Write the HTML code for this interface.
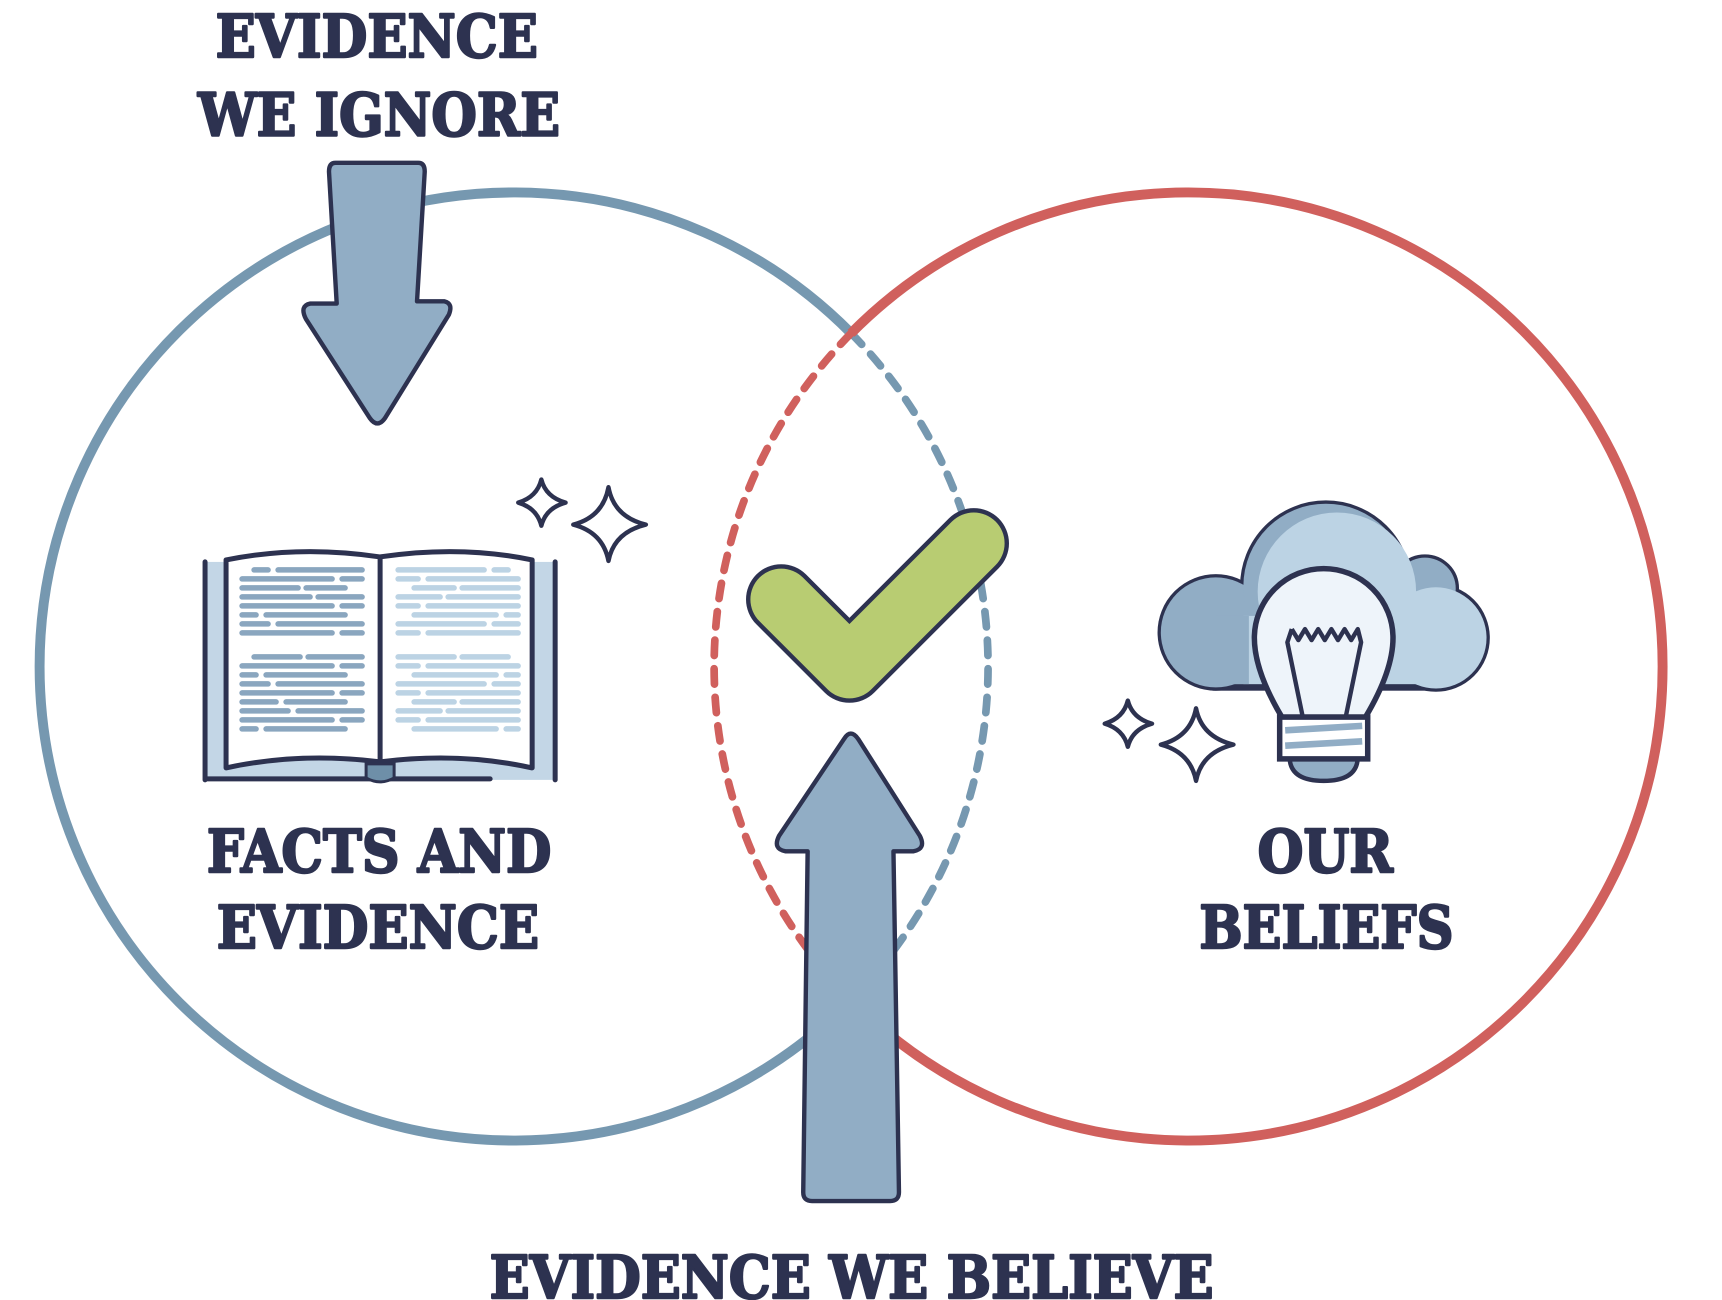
<!DOCTYPE html>
<html><head><meta charset="utf-8"><style>
html,body{margin:0;padding:0;background:#fff;}
svg{display:block;}
text{font-family:"DejaVu Serif","Liberation Serif",serif;font-weight:bold;fill:#2d3250;stroke:#2d3250;stroke-width:2.2;stroke-linejoin:round;}
</style></head><body>
<svg width="1722" height="1300" viewBox="0 0 1565 1182" preserveAspectRatio="none" xmlns="http://www.w3.org/2000/svg">
<rect width="1565" height="1182" fill="#fff"/>
<path d="M773.5 303 A431 431 0 1 0 773.5 909" fill="none" stroke="#7698b0" stroke-width="9"/>
<path d="M773.5 303 A431 431 0 0 1 773.5 909" fill="none" stroke="#7698b0" stroke-width="7" stroke-dasharray="14 12" stroke-linecap="round"/>
<path d="M773.5 303 A431 431 0 1 1 773.5 909" fill="none" stroke="#d0605d" stroke-width="9"/>
<path d="M773.5 303 A431 431 0 0 0 773.5 909" fill="none" stroke="#d0605d" stroke-width="7" stroke-dasharray="14 12" stroke-linecap="round"/>

<path d="M305 148 L380 148 Q386 148 386 156 L379 274 L404 274 Q412 276 408 286 L350 380 Q343 390 336 380 L278 290 Q272 278 282 276 L306 276 L299 156 Q299 148 305 148 Z" fill="#91adc5" stroke="#2d3250" stroke-width="4" stroke-linejoin="round"/>
<path d="M767 672 Q773 662 780 672 L836 760 Q842 772 830 774 L812 774 L817 1084 Q817 1092 809 1092 L738 1092 Q730 1092 730 1084 L734 774 L714 774 Q702 772 708 760 Z" fill="#91adc5" stroke="#2d3250" stroke-width="4" stroke-linejoin="round"/>

<polyline points="710,545 772,607 885,494" fill="none" stroke="#2d3250" stroke-width="64" stroke-linecap="round" stroke-linejoin="round"/>
<polyline points="710,545 772,607 885,494" fill="none" stroke="#b8cc72" stroke-width="56" stroke-linecap="round" stroke-linejoin="round"/>

<g fill="#fff" stroke="#2d3250" stroke-width="4" stroke-linejoin="round">
<path d="M492 436 Q496 452 514 457 Q496 462 492 478 Q488 462 471 457 Q488 452 492 436 Z"/>
<path d="M553 443 Q558 470 587 477 Q558 484 553 510 Q548 484 521 477 Q548 470 553 443 Z"/>
<path d="M1025 637 Q1029 653 1047 658 Q1029 663 1025 679 Q1021 663 1004 658 Q1021 653 1025 637 Z"/>
<path d="M1087 644 Q1092 670 1121 677 Q1092 684 1087 710 Q1082 684 1055 677 Q1082 670 1087 644 Z"/>
</g>

<g transform="scale(0.90909)">
<rect x="203" y="562" width="354" height="218" fill="#c3d6e6"/>
<path d="M205 562 V780 M205 779 H490 M555 562 V780" stroke="#2d3250" stroke-width="5" fill="none" stroke-linecap="round"/>
<path d="M226 560 Q300 545 380 557 Q460 545 532 560 L532 768 Q460 752 380 762 Q300 752 226 768 Z" fill="#fff" stroke="#2d3250" stroke-width="5" stroke-linejoin="round"/>
<path d="M380 557 V762" stroke="#2d3250" stroke-width="5"/>
<path d="M366 764 H394 V778 Q380 786 366 778 Z" fill="#6e8fa8" stroke="#2d3250" stroke-width="3"/>
<g stroke="#8aa6bf" stroke-width="5.5" stroke-linecap="round" fill="none">
<path d="M254 570H268M278 570H362M242 579H332M342 579H362M242 588H298M306 588H345M242 597H310M318 597H362M242 606H332M342 606H362M242 615H256M266 615H345M242 624H268M278 624H362M242 633H332M342 633H362M254 657H300M308 657H362M242 666H332M342 666H362M242 675H256M266 675H345M242 684H268M278 684H362M242 693H332M342 693H362M242 702H276M286 702H345M242 711H288M298 711H362M242 720H332M342 720H362M242 729H256M266 729H345"/>
</g>
<g stroke="#bcd3e4" stroke-width="5.5" stroke-linecap="round" fill="none">
<path d="M398 570H484M494 570H508M398 579H418M428 579H518M414 588H454M462 588H518M398 597H440M448 597H518M398 606H418M428 606H518M414 615H496M506 615H518M398 624H484M494 624H518M398 633H418M428 633H518M398 657H454M462 657H508M398 666H418M428 666H518M414 675H496M506 675H518M398 684H484M494 684H518M398 693H418M428 693H518M414 702H454M462 702H518M398 711H440M448 711H518M398 720H418M428 720H518M414 729H496M506 729H518"/>
</g>
</g>

<g stroke="#2d3250" stroke-width="6">
<circle cx="1105" cy="575" r="50" fill="#91adc5"/>
<circle cx="1205" cy="533" r="75" fill="#bcd3e4"/>
<circle cx="1295" cy="535" r="28" fill="#91adc5"/>
<circle cx="1305" cy="580" r="46" fill="#bcd3e4"/>
<rect x="1105" y="560" width="200" height="65" fill="#bcd3e4"/>
</g>
<g stroke="none">
<circle cx="1105" cy="575" r="50" fill="#91adc5"/>
<circle cx="1295" cy="535" r="28" fill="#91adc5"/>
<circle cx="1205" cy="533" r="75" fill="#91adc5"/>
<circle cx="1215" cy="538" r="72" fill="#bcd3e4"/>
<circle cx="1305" cy="580" r="46" fill="#bcd3e4"/>
<rect x="1130" y="560" width="175" height="62" fill="#bcd3e4"/>
<rect x="1105" y="560" width="30" height="62" fill="#91adc5"/>
<circle cx="1170" cy="590" r="32" fill="#bcd3e4"/>
</g>
<path d="M1165 652 Q1140 610 1140 580 A63 63 0 1 1 1266 580 Q1266 610 1241 652 Z" fill="#eef4fa" stroke="#2d3250" stroke-width="5" stroke-linejoin="round"/>
<path d="M1174 572 L1180 582 L1186 572 L1192 582 L1198 572 L1204 582 L1210 572 L1216 582 L1222 572 L1228 582 L1234 572 L1237 584 L1223 652 M1174 572 L1170 584 L1184 652" fill="none" stroke="#2d3250" stroke-width="4" stroke-linejoin="round"/>
<path d="M1172 688 Q1172 710 1203 710 Q1234 710 1234 688 Z" fill="#91adc5" stroke="#2d3250" stroke-width="4"/>
<rect x="1163" y="652" width="80" height="38" fill="#fff" stroke="#2d3250" stroke-width="5"/>
<path d="M1168 664 L1238 660 M1168 678 L1238 674" stroke="#91adc5" stroke-width="6"/>

<text x="196" y="52" font-size="54" textLength="293" lengthAdjust="spacingAndGlyphs">EVIDENCE</text>
<text x="180" y="123" font-size="54" textLength="329" lengthAdjust="spacingAndGlyphs">WE IGNORE</text>
<text x="188" y="793" font-size="54" textLength="313" lengthAdjust="spacingAndGlyphs">FACTS AND</text>
<text x="197" y="862" font-size="54" textLength="293" lengthAdjust="spacingAndGlyphs">EVIDENCE</text>
<text x="1143" y="793" font-size="54" textLength="123" lengthAdjust="spacingAndGlyphs">OUR</text>
<text x="1090" y="862" font-size="54" textLength="231" lengthAdjust="spacingAndGlyphs">BELIEFS</text>
<text x="445" y="1180" font-size="54" textLength="658" lengthAdjust="spacingAndGlyphs">EVIDENCE WE BELIEVE</text>
</svg>
</body></html>
